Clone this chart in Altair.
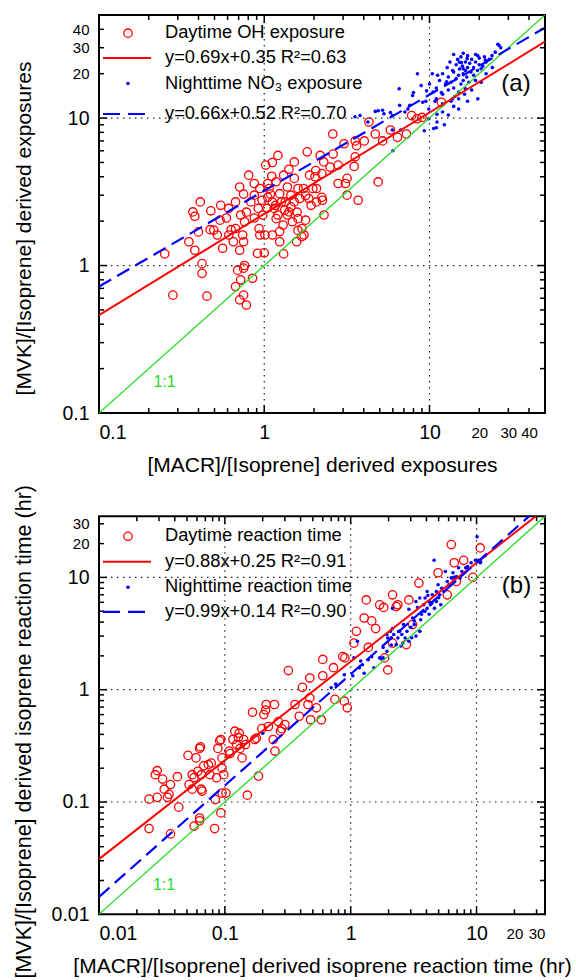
import altair as alt
import pandas as pd

# ---------------- data ----------------
# Panel (a): exposures
a_day_x = [0.25, 0.28, 0.45, 0.42, 0.42, 0.41, 0.37, 0.38, 0.475, 0.35, 0.38, 0.40, 0.495, 0.54, 0.545,
           0.52, 0.56, 0.61, 0.61, 0.67, 0.71, 0.72, 0.76, 0.805, 0.74, 0.71, 0.75, 0.65, 0.69, 0.75,
           0.76, 0.72, 0.67, 0.75, 0.71, 0.78, 0.85, 0.91, 1.0, 0.93, 0.97, 1.02, 1.11, 1.21, 1.07,
           1.04, 1.12, 1.18, 1.24, 1.31, 1.34, 1.41, 1.12, 1.24, 1.31, 1.30, 1.38, 1.52, 1.52, 1.60,
           1.52, 1.60, 1.69, 1.60, 1.69, 1.82, 1.88, 1.78, 1.92, 1.78, 1.74, 2.18, 2.29, 2.23, 2.23,
           2.25, 2.3, 2.05, 2.07, 2.61, 2.8, 3.04, 3.17, 3.1, 3.17, 3.5, 3.55, 3.62, 3.55, 3.7,
           4.03, 4.89, 4.7, 5.2, 4.3, 5.8, 6.4, 7.25, 7.8, 8.4, 9.0, 11.8, 2.6,
           0.87, 0.92, 0.98, 1.05, 1.15, 1.21, 1.27, 1.09, 1.45, 1.64, 1.73, 0.94, 0.87, 0.83, 0.78,
           1.24, 1.38, 1.18, 1.97, 2.07, 1.48, 0.94, 0.59, 0.63, 0.47, 0.67, 0.75, 1.01, 1.57, 1.41,
           1.12, 1.05, 0.87, 1.17, 1.33, 1.45, 1.58, 1.86, 2.03, 2.8, 2.5]
a_day_y = [1.20, 0.63, 0.62, 1.03, 0.885, 2.7, 2.31, 2.16, 2.35, 1.45, 1.27, 1.69, 1.74, 2.03, 2.56,
           1.61, 1.31, 1.61, 2.44, 1.78, 3.41, 2.2, 1.98, 4.1, 1.61, 1.27, 1.45, 1.45, 0.93, 0.96,
           1.0, 0.80, 0.72, 0.63, 0.585, 0.54, 0.82, 1.21, 1.22, 1.78, 2.77, 4.8, 4.03, 5.58, 3.33,
           2.44, 2.7, 2.08, 3.07, 4.1, 2.7, 2.31, 1.61, 1.45, 1.20, 1.88, 3.41, 5.04, 3.9, 3.33,
           2.7, 2.08, 1.78, 1.73, 1.57, 5.9, 4.1, 2.98, 2.56, 2.03, 1.61, 5.58, 5.04, 4.2, 2.9,
           2.77, 2.2, 4.4, 3.33, 5.7, 4.8, 6.7, 3.9, 3.6, 3.0, 4.7, 5.46, 6.5, 7.0, 2.77,
           7.0, 3.69, 7.8, 7.0, 9.4, 8.3, 7.4, 7.8, 10.4, 9.9, 10.1, 12.8, 7.8,
           3.0, 2.44, 2.2, 2.9, 2.44, 2.2, 2.7, 3.05, 3.0, 2.85, 3.33, 3.33, 2.1, 2.7, 2.3,
           1.7, 2.2, 3.7, 3.33, 2.7, 1.98, 1.61, 2.1, 1.75, 1.75, 2.7, 3.05, 1.61, 1.45, 4.5,
           5.0, 3.6, 3.6, 2.56, 2.37, 2.5, 2.3, 2.85, 4.0, 3.6, 4.65]
a_night_x = [3.54, 3.8, 4.24, 4.7, 5.2, 5.3, 5.96, 6.0, 5.96, 6.7, 6.55, 7.1, 7.6, 8.0, 8.45, 9.1, 9.6,
             9.9, 10.4, 10.6, 11.1, 11.8, 12.7, 13.8, 15, 15.2, 16, 16.9, 19.6, 19.6, 20.5, 20.5, 21.8,
             23.9, 25.9, 26.4, 11, 11.5, 12, 12, 12.5, 12.8, 13, 13, 13.3, 13.5, 13.5, 13.8, 14, 14,
             14.2, 14.5, 14.5, 14.8, 15, 15, 15.2, 15.5, 15.5, 15.8, 16, 16, 16.3, 16.5, 16.5, 16.8,
             17, 17, 17.3, 17.5, 17.8, 18, 18, 18.5, 18.5, 19, 19, 19.5, 20, 20, 21, 21.5, 22, 23,
             24, 12, 11, 10.5, 10, 9.5, 14, 15, 13, 12, 11.2, 16, 14, 17, 19, 22, 25, 27, 20.5,
             12.3, 11, 9.3, 16.5, 15.6, 10.8, 9.9, 4.9, 5.8, 6.6, 7.4, 7.9, 8.9, 11.1]
a_night_y = [10.2, 10.4, 9.4, 11.1, 11.3, 10.7, 10.4, 6.0, 8.3, 8.3, 15.8, 11.0, 12.2, 14.9, 20, 12.8,
             15.3, 9.9, 20, 8.5, 9.4, 14.9, 17.6, 13.5, 13.5, 23.9, 21.6, 25.3, 26.5, 13.5, 17.6, 21.6,
             24.7, 26.5, 31.7, 31.0, 16, 18, 14.5, 20, 17, 22, 15.5, 19, 24, 13, 17.5, 21, 16, 20.5,
             14, 18.5, 23, 25, 15, 19.5, 21.5, 17, 26, 22.5, 18, 20, 14.5, 24, 21, 19,
             22, 26.5, 17.5, 23.5, 20.5, 25, 15.5, 22, 19.5, 24, 27, 21, 23, 25.5, 22.5, 26, 24, 25,
             22, 12.5, 13.5, 15, 17, 13, 12, 11.5, 10.5, 11, 19.5, 27.5, 27, 13, 18, 20, 28, 30, 17.5,
             9.0, 8.6, 8.2, 15.8, 23.8, 13, 11.5, 11.2, 10.9, 12.2, 11.5, 14.2, 16.6, 10.6]
a_fit_x = [0.1, 50]
a_day_fit_y = [0.46, 33]
a_night_fit_y = [0.72, 41]
a_one_x = [0.1, 50]
a_one_y = [0.1, 50]

# Panel (b): reaction times (hr)
b_day_x = [0.025, 0.029, 0.025, 0.037, 0.043, 0.029, 0.028, 0.032, 0.033, 0.036, 0.037, 0.042, 0.035,
           0.051, 0.052, 0.055, 0.057, 0.059, 0.061, 0.063, 0.064, 0.065, 0.066, 0.065, 0.068, 0.063,
           0.063, 0.057, 0.055, 0.074, 0.076, 0.078, 0.083, 0.084, 0.086, 0.088, 0.091, 0.093, 0.095,
           0.093, 0.095, 0.102, 0.098, 0.095, 0.108, 0.11, 0.116, 0.12, 0.124, 0.128, 0.13, 0.132,
           0.137, 0.141, 0.146, 0.151, 0.166, 0.173, 0.178, 0.185, 0.197, 0.204, 0.211, 0.213, 0.222,
           0.242, 0.248, 0.25, 0.266, 0.277, 0.283, 0.3, 0.32, 0.361, 0.39, 0.414, 0.458, 0.473, 0.48,
           0.473, 0.534, 0.584, 0.6, 0.6, 0.73, 0.75, 0.865, 0.9, 0.94, 0.89, 1.06, 1.11, 1.28, 1.33,
           1.38, 1.47, 1.58, 1.7, 1.83, 1.86, 1.97, 2.15, 2.3, 2.37, 2.15, 2.77, 2.9, 3.1, 3.48, 4.95,
           5.85, 6.3, 6.65, 6.92, 7.91, 9.35, 10.7]
b_day_y = [0.106, 0.11, 0.058, 0.052, 0.09, 0.19, 0.175, 0.16, 0.13, 0.117, 0.143, 0.168, 0.11,
           0.26, 0.143, 0.175, 0.165, 0.247, 0.188, 0.3, 0.31, 0.175, 0.125, 0.13, 0.21, 0.072,
           0.068, 0.061, 0.13, 0.215, 0.175, 0.222, 0.058, 0.105, 0.164, 0.3, 0.35, 0.36, 0.247,
           0.08, 0.12, 0.12, 0.175, 0.2, 0.284, 0.27, 0.36, 0.427, 0.325, 0.375, 0.41, 0.3,
           0.247, 0.36, 0.325, 0.115, 0.63, 0.36, 0.37, 0.17, 0.45, 0.6, 0.66, 0.738, 0.47,
           0.36, 0.738, 0.284, 0.52, 0.427, 0.45, 0.49, 1.48, 0.738, 0.58, 1.05, 0.738, 1.27, 0.54,
           0.845, 0.69, 0.54, 1.86, 1.33, 1.57, 0.82, 1.97, 1.92, 0.69, 0.79, 2.6, 3.31, 4.35, 6.3,
           2.38, 4.1, 3.5, 5.7, 5.4, 1.92, 1.5, 7.0, 5.5, 5.71, 2.6, 2.52, 6.3, 3.8, 8.9, 11.0,
           7.0, 19.6, 13.5, 9.2, 14.2, 10.0, 18.3]
b_night_x = [0.2, 0.7, 0.76, 0.89, 1.04, 1.06, 1.13, 1.17, 1.2, 1.24, 1.28, 1.38, 1.47, 1.53, 1.7, 1.75,
             1.81, 1.81, 1.94, 1.94, 1.97, 2.07, 2.1, 2.1, 2.15, 2.15, 2.2, 2.3, 2.37, 2.4, 2.45, 2.5,
             2.55, 2.63, 2.71, 2.8, 2.9, 2.9, 3.05, 3.1, 3.2, 3.2, 3.3, 3.4, 3.54, 3.54, 3.65, 3.8,
             3.8, 3.9, 3.9, 4.05, 4.05, 4.2, 4.2, 4.3, 4.45, 4.6, 4.63, 4.8, 4.8, 4.95, 5.1, 5.2,
             5.29, 5.5, 5.65, 5.85, 6.05, 6.3, 6.5, 6.6, 6.7, 6.92, 7.2, 7.4, 7.65, 8.2, 8.5, 8.5,
             9.05, 9.8, 10.1, 10.4, 10.7, 10.8, 11.7, 3.6, 4.4, 3.0, 5.0, 4.1, 2.6, 3.3]
b_night_y = [0.41, 1.04, 1.12, 1.36, 1.33, 1.92, 2.7, 1.57, 1.8, 1.67, 1.4, 1.85, 1.97, 1.57, 1.92, 1.9,
             1.92, 2.38, 2.2, 3.1, 2.89, 3.31, 2.9, 2.5, 5.3, 3.5, 3.1, 2.52, 2.89, 3.3, 3.31, 2.45,
             3.1, 3.8, 2.89, 3.31, 5.2, 2.7, 2.9, 4.35, 3.8, 4.1, 6.1, 5.4, 6.55, 3.31, 4.7, 5.71,
             5.0, 4.99, 6.55, 7.5, 5.3, 6.1, 4.7, 5.7, 7.0, 14.2, 5.3, 7.5, 6.1, 8.6, 7.0, 5.7,
             8.0, 7.5, 11.3, 9.2, 8.6, 9.9, 11, 10.0, 9.2, 10.2, 12.2, 9.9, 11.3, 12.2, 11.8, 12.5,
             13.5, 14.2, 23, 14.2, 13.5, 13.8, 15.6, 4.2, 5.9, 3.6, 6.6, 6.9, 2.6, 3.0]
b_fit_x = [0.01, 35]
b_day_fit_y = [0.031, 40.6]
b_night_fit_y = [0.0143, 46.7]
b_one_x = [0.01, 35]
b_one_y = [0.01, 35]

# axis tick values
a_labels = [0.1, 1, 10, 20, 30, 40]
b_labels = [0.01, 0.1, 1, 10, 20, 30]
a_major = [1, 10]
b_major = [0.1, 1, 10]
a_minor = [round(m * 10.0 ** e, 6) for e in (-1, 0, 1) for m in range(2, 10) if m * 10.0 ** e < 50]
b_minor = [round(m * 10.0 ** e, 6) for e in (-2, -1, 0, 1) for m in range(2, 10) if m * 10.0 ** e < 35]

a_legend = ["Daytime OH exposure", "y=0.69x+0.35 R\u00b2=0.63",
            "Nighttime NO\u2083 exposure", "y=0.66x+0.52 R\u00b2=0.70"]
b_legend = ["Daytime reaction time", "y=0.88x+0.25 R\u00b2=0.91",
            "Nighttime reaction time", "y=0.99x+0.14 R\u00b2=0.90"]

# ---------------- styling ----------------
FONT = "Liberation Sans"
RED = "#ff0000"
BLUE = "#0000ff"
GREEN = "#22dd22"
W = 446
H = 398
LABEL_SIZE = {"condition": {"test": "datum.value >= 15", "value": 15}, "value": 19.5}


def panel(dom, day_x, day_y, night_x, night_y, fit_x, day_fit_y, night_fit_y, one_x, one_y,
          labels, major, minor, xtitle, ytitle, ytitle_y, ytitle_size, legend, leg_rows, tag, tag_pos,
          one_pos):
    xs = alt.Scale(type="log", domain=dom, nice=False)
    ys = alt.Scale(type="log", domain=dom, nice=False)
    xaxis = alt.Axis(values=labels, format="~g", title=xtitle, ticks=False, domain=False, grid=False,
                     labelFontSize=LABEL_SIZE, labelPadding=19.5, labelBaseline="middle",
                     labelOverlap=False, labelColor="black", labelFont=FONT,
                     titleFontSize=21, titleFontWeight="normal", titleColor="black", titleFont=FONT,
                     titleY=52, titleBaseline="middle")
    yaxis = alt.Axis(values=labels, format="~g", title=ytitle, ticks=False, domain=False, grid=False,
                     labelFontSize=LABEL_SIZE, labelPadding=10, labelBaseline="middle",
                     labelOverlap=False, labelColor="black", labelFont=FONT,
                     titleFontSize=ytitle_size, titleFontWeight="normal", titleColor="black",
                     titleFont=FONT, titleX=-75, titleY=ytitle_y, titleBaseline="middle")

    # every layer carries the same axis definition so the shared axis is kept
    def X(f):
        return alt.X(f, scale=xs, axis=xaxis)

    def Y(f):
        return alt.Y(f, scale=ys, axis=yaxis)

    layers = []
    dday = pd.DataFrame({"x": day_x, "y": day_y})
    layers.append(alt.Chart(dday).mark_point(shape="circle", filled=False, color=RED, size=70,
                                             strokeWidth=1.3, opacity=1).encode(
        x=X("x:Q"), y=Y("y:Q")))
    dnight = pd.DataFrame({"x": night_x, "y": night_y})
    layers.append(alt.Chart(dnight).mark_circle(color=BLUE, size=13, opacity=1).encode(
        x=X("x:Q"), y=Y("y:Q")))

    gdf = pd.DataFrame({"v": major})
    layers.append(alt.Chart(gdf).mark_rule(color="#222222", strokeWidth=1.2, strokeDash=[1.5, 4.5]).encode(
        x=X("v:Q"), y=alt.value(0), y2=alt.value(H)))
    layers.append(alt.Chart(gdf).mark_rule(color="#222222", strokeWidth=1.2, strokeDash=[1.5, 4.5]).encode(
        y=Y("v:Q"), x=alt.value(0), x2=alt.value(W)))

    for lx, ly, col, sw, dash in [(one_x, one_y, GREEN, 1.3, None),
                                  (fit_x, day_fit_y, RED, 2, None),
                                  (fit_x, night_fit_y, BLUE, 2.2, [14, 7])]:
        kw = dict(color=col, strokeWidth=sw, clip=True)
        if dash:
            kw["strokeDash"] = dash
        layers.append(alt.Chart(pd.DataFrame({"x": lx, "y": ly})).mark_line(**kw).encode(
            x=X("x:Q"), y=Y("y:Q")))

    for vals, L in [(major, 8), (minor, 5)]:
        tdf = pd.DataFrame({"v": vals})
        base = alt.Chart(tdf).mark_rule(color="black", strokeWidth=1.5)
        layers.append(base.encode(x=X("v:Q"), y=alt.value(H), y2=alt.value(H - L)))
        layers.append(base.encode(x=X("v:Q"), y=alt.value(0), y2=alt.value(L)))
        layers.append(base.encode(y=Y("v:Q"), x=alt.value(0), x2=alt.value(L)))
        layers.append(base.encode(y=Y("v:Q"), x=alt.value(W), x2=alt.value(W - L)))

    one = pd.DataFrame({"k": [0]})
    r0, r1, r2, r3 = leg_rows
    layers.append(alt.Chart(one).mark_point(shape="circle", filled=False, color=RED, size=70,
                                            strokeWidth=1.3, opacity=1).encode(
        x=alt.value(29), y=alt.value(r0)))
    layers.append(alt.Chart(one).mark_rule(color=RED, strokeWidth=2).encode(
        x=alt.value(4), x2=alt.value(52), y=alt.value(r1)))
    layers.append(alt.Chart(one).mark_circle(color=BLUE, size=13, opacity=1).encode(
        x=alt.value(29), y=alt.value(r2)))
    layers.append(alt.Chart(one).mark_rule(color=BLUE, strokeWidth=2.2, strokeDash=[17, 8]).encode(
        x=alt.value(4), x2=alt.value(52), y=alt.value(r3)))
    for txt, ry in zip(legend, leg_rows):
        layers.append(alt.Chart(pd.DataFrame({"t": [txt]})).mark_text(
            align="left", baseline="middle", font=FONT, fontSize=18.3, color="black").encode(
            x=alt.value(66), y=alt.value(ry), text="t:N"))

    layers.append(alt.Chart(pd.DataFrame({"t": [tag]})).mark_text(
        align="center", baseline="middle", font=FONT, fontSize=24, color="black").encode(
        x=alt.value(tag_pos[0]), y=alt.value(tag_pos[1]), text="t:N"))
    layers.append(alt.Chart(pd.DataFrame({"t": ["1:1"]})).mark_text(
        align="center", baseline="middle", font=FONT, fontSize=16, color=GREEN).encode(
        x=alt.value(one_pos[0]), y=alt.value(one_pos[1]), text="t:N"))

    return alt.layer(*layers).properties(width=W, height=H)


pa = panel([0.1, 50], a_day_x, a_day_y, a_night_x, a_night_y, a_fit_x, a_day_fit_y, a_night_fit_y,
           a_one_x, a_one_y, a_labels, a_major, a_minor,
           "[MACR]/[Isoprene] derived exposures", "[MVK]/[Isoprene] derived exposures", 213, 21,
           a_legend, [18.2, 43.0, 68.5, 99.0], "(a)", (417, 69), (65.5, 366.7))
pb = panel([0.01, 35], b_day_x, b_day_y, b_night_x, b_night_y, b_fit_x, b_day_fit_y, b_night_fit_y,
           b_one_x, b_one_y, b_labels, b_major, b_minor,
           "[MACR]/[Isoprene] derived isoprene reaction time (hr)",
           "[MVK]/[Isoprene] derived  isoprene reaction time (hr)", 215, 21.5,
           b_legend, [20.0, 45.5, 71.0, 95.5], "(b)", (417.5, 70), (65, 368.5))

chart = alt.vconcat(pa, pb, spacing=103.3, bounds="flush").properties(
    padding={"left": 11, "top": 13, "right": 0, "bottom": 0}
).configure(font=FONT).configure_view(stroke="black", strokeWidth=2)

chart.save("out.html", embed_options={"renderer": "svg", "actions": False})
